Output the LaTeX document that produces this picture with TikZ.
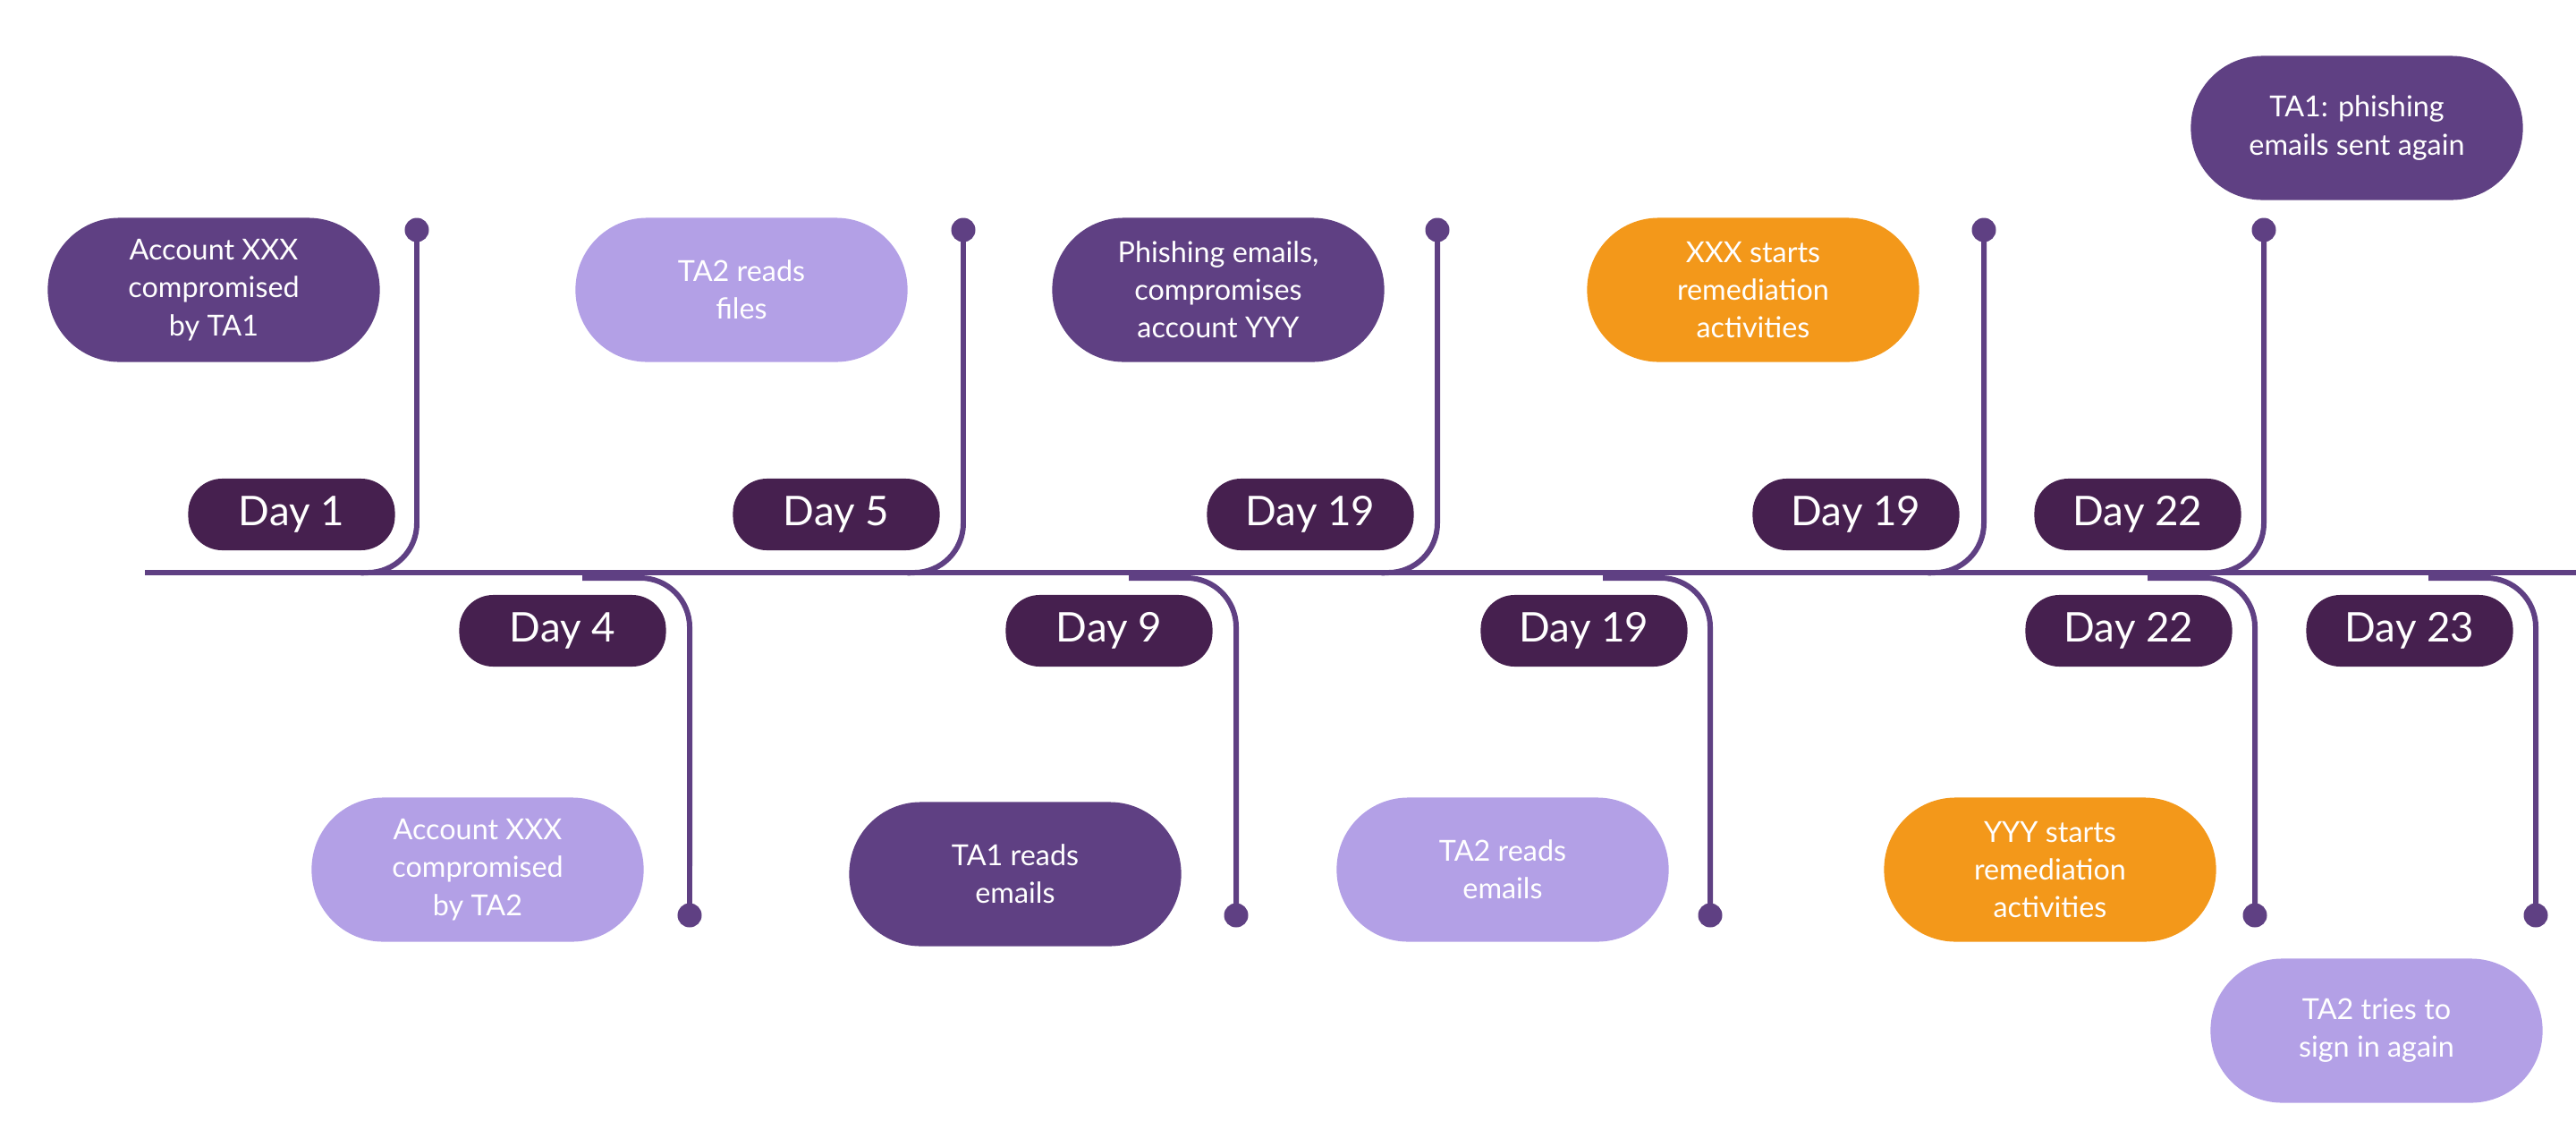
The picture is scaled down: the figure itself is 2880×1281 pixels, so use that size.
\documentclass[tikz,border=0pt]{standalone}
\usepackage{fontspec}
\setmainfont{Lato}
\definecolor{pill}{HTML}{46204F}
\definecolor{evd}{HTML}{5F4083}
\definecolor{evl}{HTML}{B3A0E6}
\definecolor{evo}{HTML}{F3981A}
\definecolor{ln}{HTML}{5F4083}
\begin{document}
\begin{tikzpicture}[x=0.01cm,y=-0.01cm,
  day/.style={fill=pill,text=white,rounded corners=0.38cm,minimum width=2.31cm,minimum height=0.8cm,font=\fontsize{13}{15}\selectfont,inner sep=0pt},
  ev/.style={rounded corners=0.8cm,minimum width=3.71cm,minimum height=1.61cm,text=white,align=center,font=\fontsize{9.2}{12}\selectfont,inner sep=0pt},
  dot/.style={circle,fill=ln,minimum size=0.27cm,inner sep=0pt},
  conn/.style={draw=ln,line width=1.7pt}]
\useasboundingbox (0,0) rectangle (2880,1281);
% main line
\coordinate (ms) at (162,640); \coordinate (me) at (2880,640);
\draw[conn] (ms) -- (me);
% top stems
\foreach \n/\x in {t1/466,t2/1077,t3/1607,t4/2218,t5/2531}{
  \node[dot] (\n) at (\x,257) {};
  \coordinate (\n j) at (\x-55,640);
  \draw[conn] (\n.center) -- ++(0,328) arc[start angle=0,end angle=-90,radius=0.55cm] -- (\n j);
}
% bottom stems
\foreach \n/\x in {b1/771,b2/1382,b3/1912,b4/2521,b5/2835}{
  \node[dot] (\n) at (\x,1023) {};
  \coordinate (\n j) at (\x-120,646);
  \draw[conn] (\n j) -- ++(65,0) arc[start angle=90,end angle=0,radius=0.55cm] -- (\n.center);
}
% day pills
\node[day] (d1) at (326,575) {Day 1};
\node[day] (d5) at (935,575) {Day 5};
\node[day] (d19a) at (1465,575) {Day 19};
\node[day] (d19b) at (2075,575) {Day 19};
\node[day] (d22a) at (2390,575) {Day 22};
\node[day] (d4) at (629,705) {Day 4};
\node[day] (d9) at (1240,705) {Day 9};
\node[day] (d19c) at (1771,705) {Day 19};
\node[day] (d22b) at (2380,705) {Day 22};
\node[day] (d23) at (2694,705) {Day 23};
% events
\node[ev,fill=evd] (e1) at (239,324) {Account XXX\\compromised\\by TA1};
\node[ev,fill=evl] (e2) at (829,324) {TA2 reads\\files};
\node[ev,fill=evd] (e3) at (1362,324) {Phishing emails,\\compromises\\account YYY};
\node[ev,fill=evo] (e4) at (1960,324) {XXX starts\\remediation\\activities};
\node[ev,fill=evd] (e5) at (2635,143) {TA1: phishing\\emails sent again};
\node[ev,fill=evl] (e6) at (534,972) {Account XXX\\compromised\\by TA2};
\node[ev,fill=evd] (e7) at (1135,977) {TA1 reads\\emails};
\node[ev,fill=evl] (e8) at (1680,972) {TA2 reads\\emails};
\node[ev,fill=evo] (e9) at (2292,972) {YYY starts\\remediation\\activities};
\node[ev,fill=evl] (e10) at (2657,1152) {TA2 tries to\\sign in again};
\end{tikzpicture}
\end{document}
